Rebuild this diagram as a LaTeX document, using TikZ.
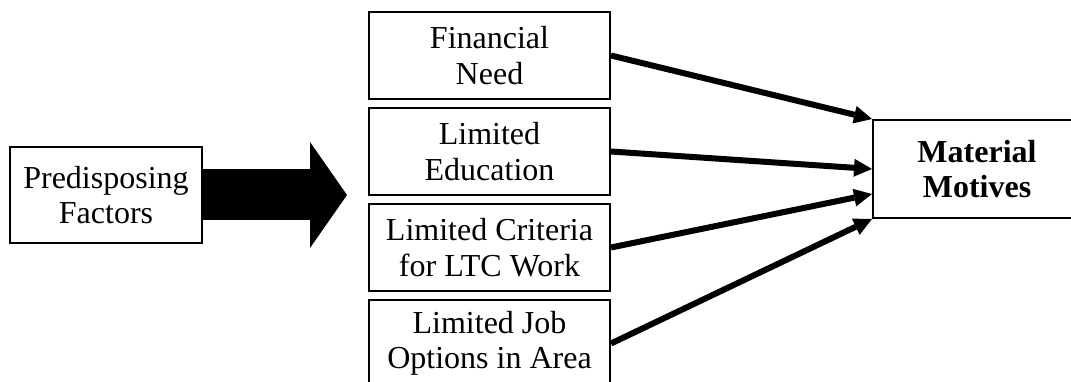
\documentclass[tikz,border=0pt]{standalone}
\usepackage{fontspec}
\setmainfont{Liberation Serif}
\usetikzlibrary{arrows.meta, positioning}

\begin{document}
\begin{tikzpicture}[
    x = 1pt, y = 1pt,
    node distance = 7pt and 7pt,
    factor/.style = {rectangle, draw, line width=2pt, align=center,
                     minimum width=241pt, minimum height=87pt, inner sep=0pt},
    link/.style = {black, line width=6pt, -{Triangle[length=18pt, width=18pt, line width=0pt]}},
    push/.style = {black, line width=51pt, -{Triangle[length=37pt, width=106pt, line width=0pt]}},
    font=\fontsize{32}{35.5}\selectfont
    ]
  \useasboundingbox (0,0) rectangle (1071,-382);

  \node[factor, minimum width=192pt, minimum height=96pt] (pre) at (106,-195) {Predisposing\\Factors} ;
  \coordinate (tip) at (347,-195) ;

  \node[factor] (h1) at (489.5,-55.5) {Financial\\Need} ;
  \node[factor] (h2) [below=of h1] {Limited\\Education} ;
  \node[factor] (h3) [below=of h2] {Limited Criteria\\for LTC Work} ;
  \node[factor] (h4) [below=of h3] {Limited Job\\Options in Area} ;

  \node[factor, minimum width=208pt, minimum height=98pt, font=\fontsize{32}{35.5}\selectfont\bfseries]
    (motives) at (977,-169) {Material\\Motives} ;

  \draw[push] (pre) -- (tip) ;

  \draw
  (h1.east) edge[link] (motives.north west)
  (h2.east) edge[link] (motives.west)
  (h3.east) edge[link] ([yshift=-25pt]motives.west)
  (h4.east) edge[link] (motives.south west) ;
\end{tikzpicture}
\end{document}
